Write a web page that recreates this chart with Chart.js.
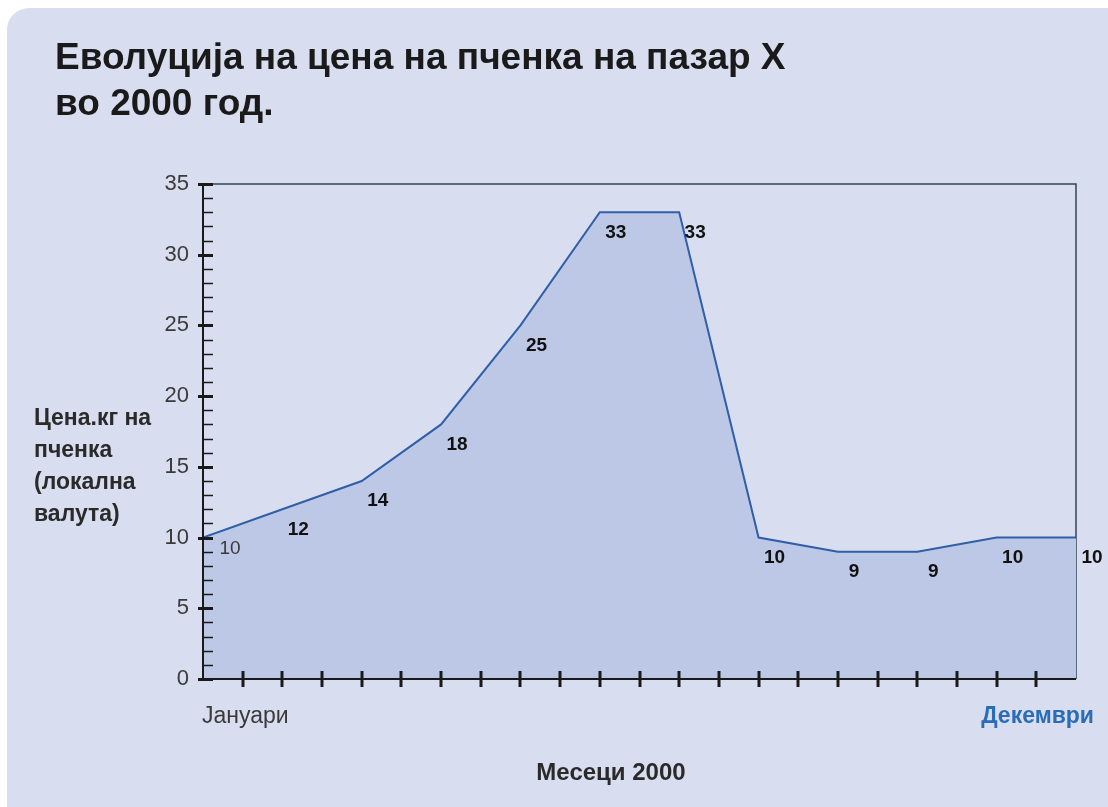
<!DOCTYPE html>
<html lang="mk">
<head>
  <meta charset="UTF-8">
  <title>Евол. на цена на пченка</title>
  <script src="https://cdn.jsdelivr.net/npm/chart.js"></script>
  <style>
    html, body { margin: 0; padding: 0; background: #ffffff; }
    .panel {
      position: absolute;
      left: 7px; top: 8px;
      width: 1101px; height: 799px;
      background: #d8def0;
      border-top-left-radius: 22px;
    }
    canvas { position: absolute; left: 0; top: 0; }
  </style>
</head>
<body>
  <div class="panel"></div>
  <canvas id="myChart" width="1108" height="807"></canvas>
  <script>
    const months = ['Јануари', 'Февруари', 'Март', 'Април', 'Мај', 'Јуни', 'Јули', 'Август', 'Септември', 'Октомври', 'Ноември', 'Декември'];
    const prices = [10, 12, 14, 18, 25, 33, 33, 10, 9, 9, 10, 10];
    const yTicks = [0, 5, 10, 15, 20, 25, 30, 35];
    const titleLines = ['Еволуција на цена на пченка на пазар X', 'во 2000 год.'];
    const yTitleLines = ['Цена.кг на', 'пченка', '(локална', 'валута)'];
    const xTitle = 'Месеци 2000';

    const FONT = '"Liberation Sans", Arial, sans-serif';

    // axes, ticks, frame and all texts drawn with the chart scales
    const decor = {
      id: 'decor',
      beforeDatasetsDraw(chart) {
        const { ctx, chartArea: a } = chart;
        ctx.save();
        ctx.strokeStyle = '#2f4550';
        ctx.lineWidth = 1.5;
        ctx.beginPath();
        ctx.moveTo(a.left, a.top);
        ctx.lineTo(a.right, a.top);
        ctx.lineTo(a.right, a.bottom);
        ctx.stroke();
        ctx.restore();
      },
      afterDatasetsDraw(chart) {
        const { ctx, chartArea: a, scales: { x, y } } = chart;
        ctx.save();
        // axes
        ctx.strokeStyle = '#1a1a1a';
        ctx.lineWidth = 2;
        ctx.beginPath();
        ctx.moveTo(a.left, a.top);
        ctx.lineTo(a.left, a.bottom);
        ctx.lineTo(a.right, a.bottom);
        ctx.stroke();

        // y ticks: minor every 1, major every 5
        for (let v = 0; v <= 35; v++) {
          const py = Math.round(y.getPixelForValue(v)) + 0.5;
          const major = v % 5 === 0;
          ctx.lineWidth = major ? 3 : 1.5;
          ctx.beginPath();
          ctx.moveTo(a.left - (major ? 5 : 0), py);
          ctx.lineTo(a.left + 10, py);
          ctx.stroke();
        }
        ctx.fillStyle = '#3a3a3a';
        ctx.font = '22px ' + FONT;
        ctx.textAlign = 'right';
        ctx.textBaseline = 'middle';
        yTicks.forEach(v => ctx.fillText(String(v), a.left - 14, y.getPixelForValue(v)));

        // x ticks at every half month
        ctx.lineWidth = 3;
        for (let i = 1; i < months.length * 2 - 2; i++) {
          const px = Math.round(x.getPixelForValue(i / 2));
          ctx.beginPath();
          ctx.moveTo(px, a.bottom - 8);
          ctx.lineTo(px, a.bottom + 8);
          ctx.stroke();
        }

        // x labels: first and last month
        ctx.textBaseline = 'middle';
        ctx.textAlign = 'left';
        ctx.fillStyle = '#3a3a3a';
        ctx.font = '23px ' + FONT;
        ctx.fillText(months[0], x.getPixelForValue(0) - 1, a.bottom + 38);
        ctx.textAlign = 'right';
        ctx.fillStyle = '#2a6db5';
        ctx.font = 'bold 23px ' + FONT;
        ctx.fillText(months[months.length - 1], x.getPixelForValue(months.length - 1) + 18, a.bottom + 38);

        // value labels
        prices.forEach((v, i) => {
          ctx.textAlign = 'center';
          ctx.font = (i === 0 ? '' : 'bold ') + '19px ' + FONT;
          ctx.fillStyle = i === 0 ? '#3a3a3a' : '#111111';
          ctx.fillText(String(v), x.getPixelForValue(i) + (i === 0 ? 27 : 16), y.getPixelForValue(v) + (i === 0 ? 11 : 20));
        });

        // titles
        ctx.fillStyle = '#1a1a1a';
        ctx.textAlign = 'left';
        ctx.textBaseline = 'alphabetic';
        ctx.font = 'bold 37px ' + FONT;
        titleLines.forEach((t, i) => ctx.fillText(t, 55, 69 + i * 46));

        ctx.fillStyle = '#2a2a2a';
        ctx.font = 'bold 23px ' + FONT;
        ctx.textBaseline = 'middle';
        yTitleLines.forEach((t, i) => ctx.fillText(t, 34, 419 + i * 32));

        ctx.textAlign = 'center';
        ctx.font = 'bold 24px ' + FONT;
        ctx.fillText(xTitle, 611, 773);
        ctx.restore();
      }
    };

    const chart = new Chart(document.getElementById('myChart'), {
      type: 'line',
      data: {
        datasets: [{
          data: prices.map((v, i) => ({ x: i, y: v })),
          borderColor: '#2f5fa8',
          borderWidth: 2,
          backgroundColor: '#bdc8e6',
          fill: 'origin',
          pointRadius: 0,
          tension: 0
        }]
      },
      options: {
        responsive: false,
        animation: false,
        layout: { padding: { left: 203, right: 32, top: 184, bottom: 128 } },
        plugins: { legend: { display: false }, tooltip: { enabled: false } },
        scales: {
          x: { type: 'linear', min: 0, max: months.length - 1, display: false },
          y: { min: 0, max: 35, display: false }
        }
      },
      plugins: [decor]
    });
  </script>
</body>
</html>
